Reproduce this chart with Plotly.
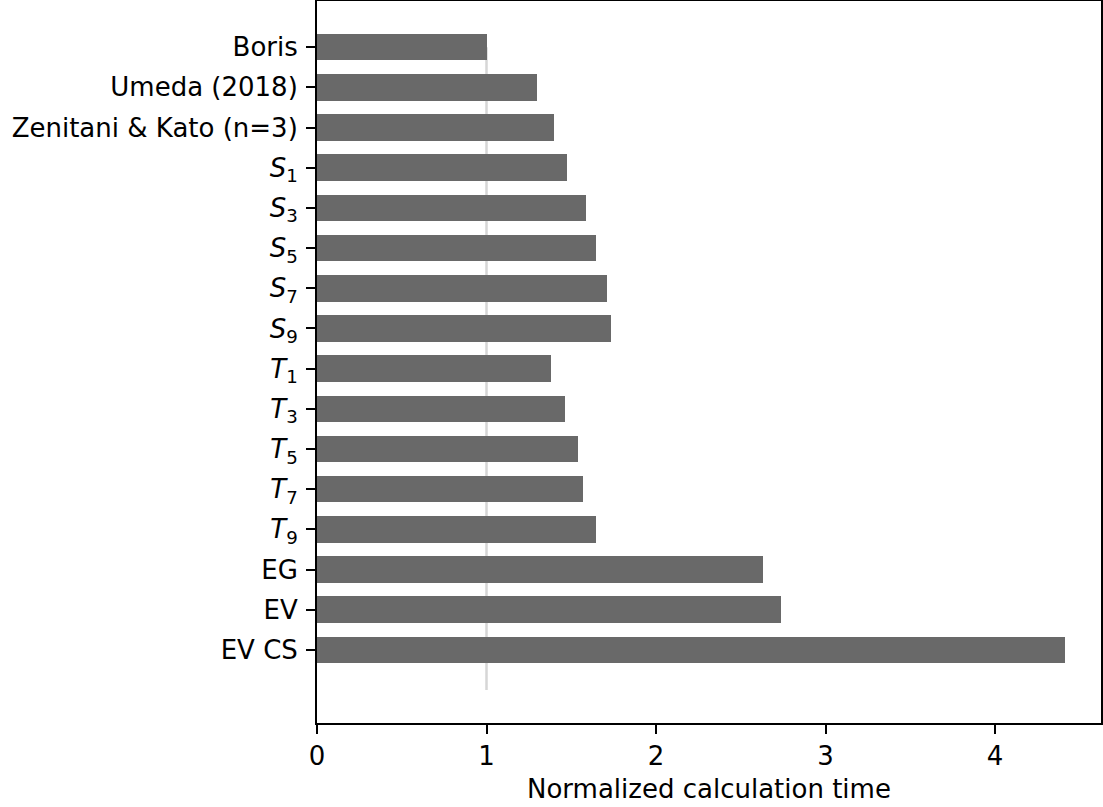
import plotly.graph_objects as go

categories = ["Boris", "Umeda (2018)", "Zenitani & Kato (n=3)",
              "<i>S</i><sub>1</sub>", "<i>S</i><sub>3</sub>", "<i>S</i><sub>5</sub>",
              "<i>S</i><sub>7</sub>", "<i>S</i><sub>9</sub>",
              "<i>T</i><sub>1</sub>", "<i>T</i><sub>3</sub>", "<i>T</i><sub>5</sub>",
              "<i>T</i><sub>7</sub>", "<i>T</i><sub>9</sub>",
              "EG", "EV", "EV CS"]
times = [1.00, 1.30, 1.40, 1.475, 1.587, 1.646, 1.71, 1.734,
         1.38, 1.463, 1.54, 1.57, 1.646, 2.63, 2.736, 4.414]
x_ticks = [0, 1, 2, 3, 4]
ref_value = 1.0
x_title = "Normalized calculation time"

positions = list(range(len(categories)))

fig = go.Figure()
fig.add_trace(go.Bar(
    x=times, y=positions, orientation="h", width=0.66,
    marker=dict(color="#696969", line=dict(width=0)),
    showlegend=False, hoverinfo="skip"))

fig.add_shape(type="line", xref="x", yref="y",
              x0=ref_value, x1=ref_value, y0=0, y1=len(categories),
              line=dict(color="#d6d6d6", width=2.5), layer="below")

font = dict(family="DejaVu Sans", size=26, color="black")
fig.update_layout(
    width=1103, height=807,
    margin=dict(l=317, r=2, t=1, b=84, pad=0),
    paper_bgcolor="white", plot_bgcolor="white",
    font=font,
    bargap=0,
)
fig.add_annotation(text=x_title, xref="paper", yref="paper",
                   x=0.5, y=-0.0914, xanchor="center", yanchor="middle",
                   showarrow=False, font=font)
fig.update_xaxes(
    range=[0, 4.625], tickvals=x_ticks, ticktext=[str(v) for v in x_ticks],
    ticks="outside", ticklen=9, tickwidth=2, tickcolor="black",
    showline=True, linewidth=2, linecolor="black", mirror=True,
    showgrid=False, zeroline=False, tickfont=font, automargin=False,
)
fig.update_yaxes(
    range=[16.82, -1.15], tickvals=positions, ticktext=categories,
    ticks="outside", ticklen=9, tickwidth=2, tickcolor="black",
    showline=True, linewidth=2, linecolor="black", mirror=True,
    showgrid=False, zeroline=False, tickfont=font, automargin=False,
    ticklabelstandoff=3,
)

fig.write_html("out.html", config={"displayModeBar": False},
               post_script="document.body.style.margin='0';document.body.style.overflow='hidden';")
